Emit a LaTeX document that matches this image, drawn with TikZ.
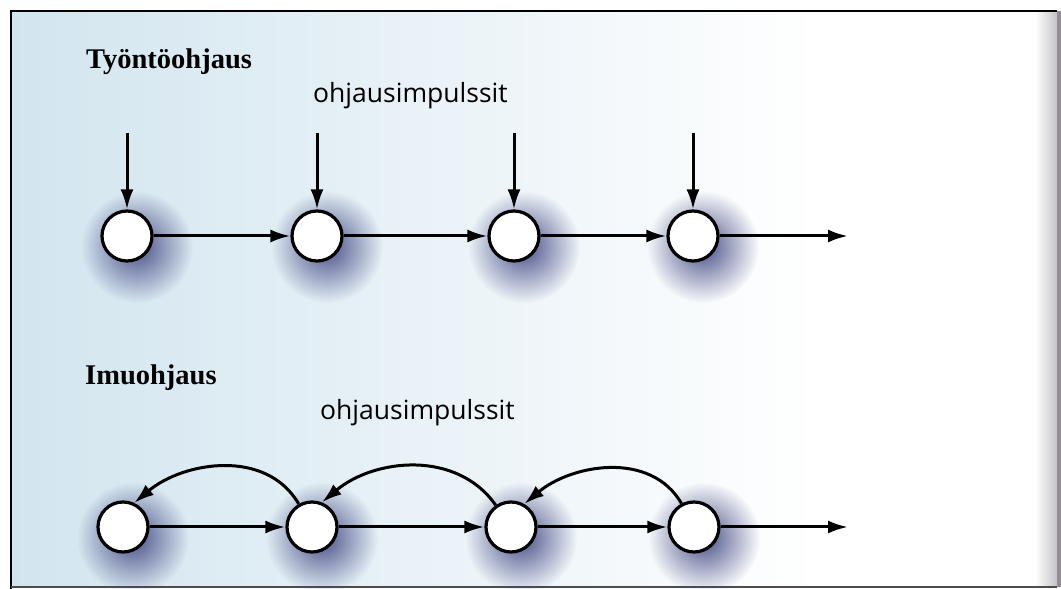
\documentclass[tikz,border=0pt]{standalone}
\usepackage{fontspec}
\setmainfont{Liberation Serif}
\newfontfamily\labelfont{Open Sans}
\usetikzlibrary{arrows.meta,fadings}
\tikzfading[name=glowfade, inner color=transparent!0, outer color=transparent!100]
\definecolor{bgblue}{RGB}{210,229,239}
\definecolor{glowcol}{RGB}{74,80,136}
\definecolor{edgegray}{RGB}{125,120,132}
\tikzset{
  stage/.style={circle, draw=black, line width=3.2pt, fill=white, minimum size=50pt, inner sep=0pt},
  flow/.style={line width=3pt, -{Latex[length=20pt,width=13pt]}},
  title/.style={font=\fontsize{28.5}{30}\selectfont\bfseries, anchor=base west, inner sep=0pt},
  lab/.style={font=\labelfont\fontsize{26.5}{28}\selectfont, anchor=base west, inner sep=0pt},
}
\newcommand{\glowat}[2]{\fill[glowcol, path fading=glowfade] (#1+10,#2-11) circle (56);}
\begin{document}
\begin{tikzpicture}[x=1pt,y=1pt]
\useasboundingbox (0,0) rectangle (1061,589);
% background
\fill[white] (0,0) rectangle (1061,589);
\shade[left color=bgblue, right color=white] (11,2) rectangle (820,578);
\shade[left color=white, right color=edgegray!45] (1035,2) rectangle (1057,578);
\fill[edgegray!85] (1057,2) rectangle (1061,578);
% frame
\draw[line width=2.5pt] (1057,578) -- (11,578) -- (11,0);
\draw[line width=1.2pt, black!70] (11,2) -- (1057,2);
% glows
\glowat{127}{353}\glowat{317}{353}\glowat{514}{353}\glowat{693}{353}
\glowat{123}{62}\glowat{312}{62}\glowat{511}{62}\glowat{694}{62}
% top: push control
\node[title] (t1) at (86,520) {Työntöohjaus};
\node[lab] (l1) at (313,486) {ohjausimpulssit};
\node[stage] (a1) at (127,353) {};
\node[stage] (a2) at (317,353) {};
\node[stage] (a3) at (514,353) {};
\node[stage] (a4) at (693,353) {};
\coordinate (ae) at (848,353);
\coordinate (p1) at (127,456);
\coordinate (p2) at (317,456);
\coordinate (p3) at (514,456);
\coordinate (p4) at (693,456);
\draw[flow] (p1) -- (a1);
\draw[flow] (p2) -- (a2);
\draw[flow] (p3) -- (a3);
\draw[flow] (p4) -- (a4);
\draw[flow] (a1) -- (a2);
\draw[flow] (a2) -- (a3);
\draw[flow] (a3) -- (a4);
\draw[flow] (a4) -- (ae);
% bottom: pull control
\node[title] (t2) at (85,204) {Imuohjaus};
\node[lab] (l2) at (320,169) {ohjausimpulssit};
\node[stage] (b1) at (123,62) {};
\node[stage] (b2) at (312,62) {};
\node[stage] (b3) at (511,62) {};
\node[stage] (b4) at (694,62) {};
\coordinate (be) at (848,62);
\draw[flow] (b1) -- (b2);
\draw[flow] (b2) -- (b3);
\draw[flow] (b3) -- (b4);
\draw[flow] (b4) -- (be);
\draw[flow] (b2.120) to[out=120,in=40] (b1.65);
\draw[flow] (b3.125) to[out=125,in=40] (b2.68);
\draw[flow] (b4.118) to[out=120,in=40] (b3.60);
\end{tikzpicture}
\end{document}
